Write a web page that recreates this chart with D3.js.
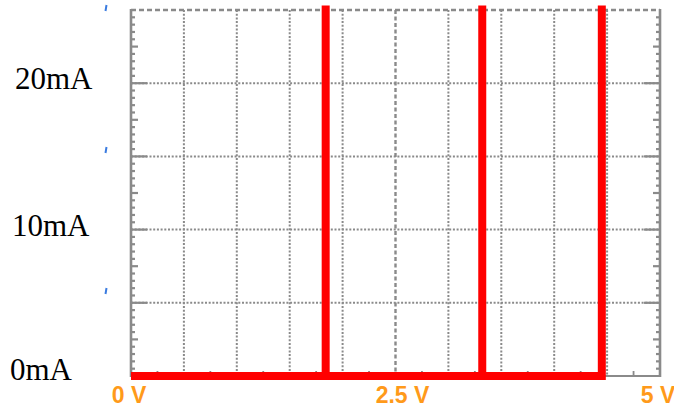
<!DOCTYPE html>
<html><head><meta charset="utf-8">
<script src="https://cdn.jsdelivr.net/npm/d3@7"></script>
<style>html,body{margin:0;padding:0;background:#fff;}svg{display:block;}</style>
</head><body>
<script>
// ---- data ----
const voltTicks = [0, 2.5, 5];
const voltLabels = ["0 V", "2.5 V", "5 V"];
const currentTicks = [0, 10, 20];
const currentLabels = ["0mA", "10mA", "20mA"];
// trace points: [volts, mA]
const traceV = [0, 1.84, 1.84, 1.84, 3.32, 3.32, 3.32, 4.45, 4.45];
const traceI = [0, 0, 25.3, 0, 0, 25.3, 0, 0, 25.3];

const W = 674, H = 410;
const svg = d3.select("body").append("svg").attr("width", W).attr("height", H);

const x = d3.scaleLinear().domain([0, 5]).range([131, 660]);
const y = d3.scaleLinear().domain([0, 25]).range([376, 10]);

const grid = "#8a8a8a";
const g = svg.append("g");

// vertical gridlines (10 divisions)
const xDivs = d3.range(1, 10).map(i => i * 0.5);
xDivs.forEach(v => {
  const center = Math.abs(v - 2.5) < 1e-9;
  g.append("line").attr("x1", x(v)).attr("x2", x(v)).attr("y1", y(25)).attr("y2", y(0))
    .attr("stroke", grid).attr("stroke-width", center ? 2.4 : 2)
    .attr("stroke-dasharray", center ? "4,2.5" : "2,1.7");
});
// horizontal gridlines (5 divisions)
const yDivs = [5, 10, 15, 20];
yDivs.forEach(v => {
  g.append("line").attr("x1", x(0)).attr("x2", x(5)).attr("y1", y(v)).attr("y2", y(v))
    .attr("stroke", grid).attr("stroke-width", 2).attr("stroke-dasharray", "2,1.7");
});
// top border dashed
g.append("line").attr("x1", x(0)).attr("x2", x(5)).attr("y1", y(25)).attr("y2", y(25))
  .attr("stroke", grid).attr("stroke-width", 2.4).attr("stroke-dasharray", "5,3");
// bottom border
g.append("line").attr("x1", x(0)).attr("x2", x(5)).attr("y1", y(0)).attr("y2", y(0))
  .attr("stroke", grid).attr("stroke-width", 2);
// bottom mid-division ticks
d3.range(0, 10).map(i => i * 0.5 + 0.25).forEach(v => {
  g.append("line").attr("x1", x(v)).attr("x2", x(v)).attr("y1", y(0)).attr("y2", y(0) - 5)
    .attr("stroke", grid).attr("stroke-width", 1.8);
});

// left & right axes with minor ticks
const minor = d3.range(0, 251).map(i => i * 0.1);
[[x(0), 1], [x(5), -1]].forEach(([ax, dir]) => {
  g.append("line").attr("x1", ax).attr("x2", ax).attr("y1", y(25) - 1).attr("y2", y(0) + 1)
    .attr("stroke", grid).attr("stroke-width", 2.6);
  minor.forEach(v => {
    const k = Math.round(v * 10);
    let len = 4;
    if (k % 50 === 0) len = 16; else if (k % 25 === 0) len = 7;
    if (k % 5 !== 0) return;
    if (k === 0 || k === 250) return;
    g.append("line").attr("x1", ax).attr("x2", ax + dir * len)
      .attr("y1", y(v)).attr("y2", y(v))
      .attr("stroke", grid).attr("stroke-width", 2.2);
  });
});

// trace
const pts = traceV.map((v, i) => [x(v), y(traceI[i])]);
svg.append("path").attr("d", d3.line()(pts))
  .attr("fill", "none").attr("stroke", "#ff0000").attr("stroke-width", 8)
  .attr("stroke-linejoin", "miter").attr("stroke-linecap", "butt");

// y labels
const yLabelX = [10, 12, 15];
const yLabelDy = [4, 6, 6];
currentTicks.forEach((v, i) => {
  svg.append("text").attr("x", yLabelX[i]).attr("y", y(v) + yLabelDy[i])
    .attr("font-family", "Liberation Serif, Times New Roman, serif")
    .attr("font-size", 31).attr("fill", "#000").text(currentLabels[i]);
});

// x labels
const xLabelDx = [-2, 7, -2];
voltTicks.forEach((v, i) => {
  svg.append("text").attr("x", x(v) + xLabelDx[i]).attr("y", 403)
    .attr("text-anchor", "middle")
    .attr("font-family", "Liberation Sans, Arial, sans-serif").attr("font-weight", "bold")
    .attr("font-size", 23).attr("fill", "#ff9a1a").text(voltLabels[i]);
});

// small blue marks on left
[8, 150, 291].forEach(yy => {
  svg.append("line").attr("x1", 106.5).attr("x2", 105.5).attr("y1", yy - 3).attr("y2", yy + 3)
    .attr("stroke", "#3a7be0").attr("stroke-width", 2);
});
</script>
</body></html>
